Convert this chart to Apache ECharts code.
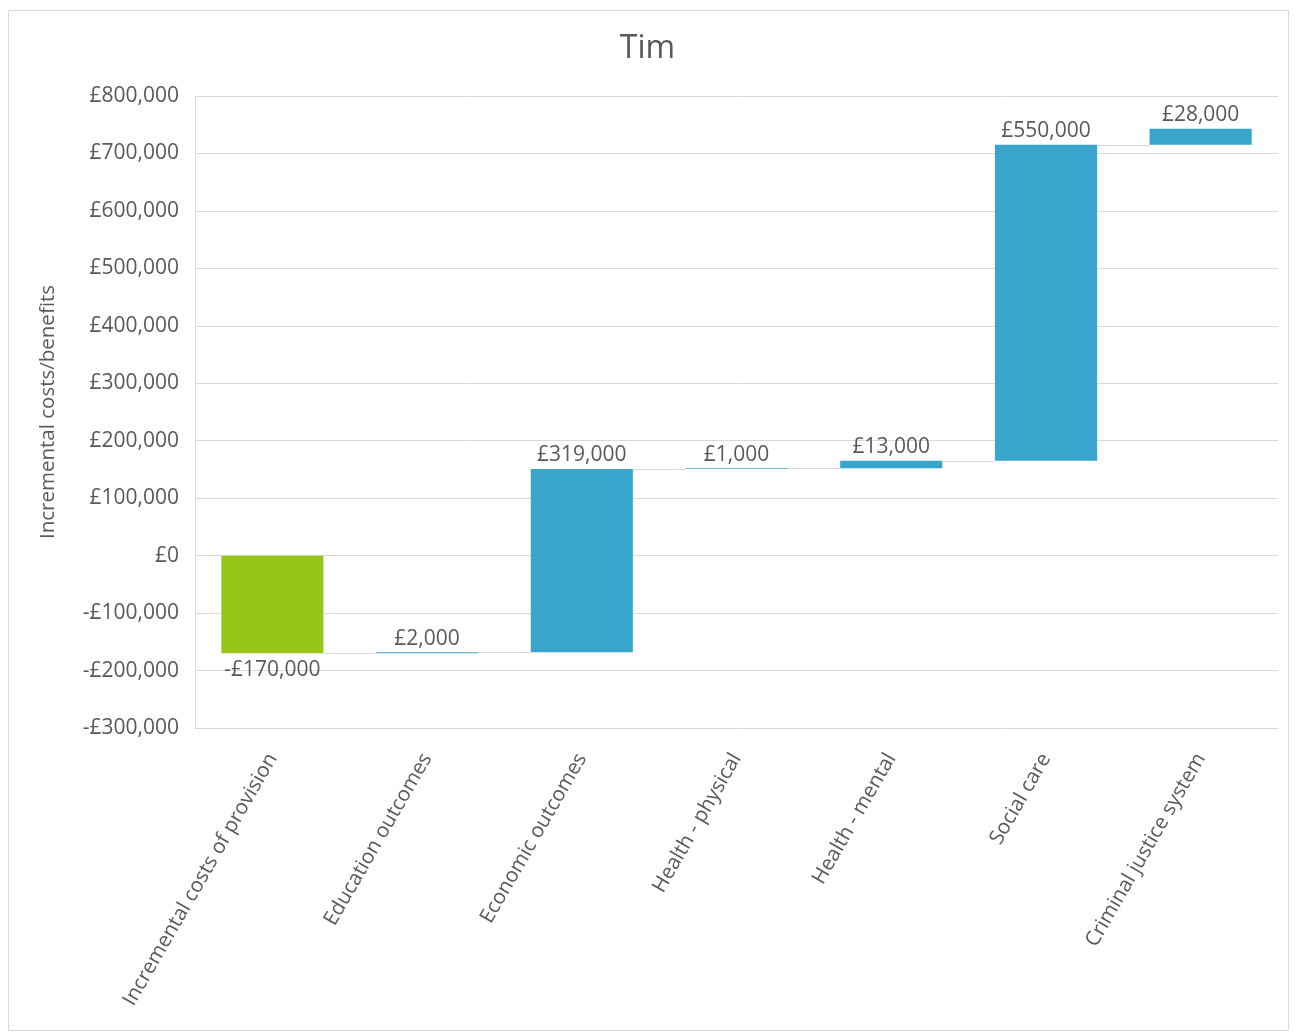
<!DOCTYPE html>
<html lang="en">
<head>
    <meta charset="UTF-8">
    <title>Tim</title>
    <script src="https://cdn.jsdelivr.net/npm/echarts@6/dist/echarts.min.js"></script>
    <style>
        html, body { margin: 0; padding: 0; background: #fff; }
        #main { width: 1295px; height: 1034px; }
    </style>
</head>
<body>
<div id="main"></div>
<script>
    // chart data
    var categories = ['Incremental costs of provision', 'Education outcomes', 'Economic outcomes',
        'Health - physical', 'Health - mental', 'Social care', 'Criminal justice system'];
    var changes = [-170000, 2000, 319000, 1000, 13000, 550000, 28000];
    var yTicks = { min: -300000, max: 800000, step: 100000 };

    // running totals: start of every bar and level after it
    var starts = [], levels = [];
    var total = 0;
    for (var i = 0; i < changes.length; i++) {
        starts.push(total);
        total += changes[i];
        levels.push(total);
    }

    function money(v) {
        var s = '£' + Math.abs(v).toLocaleString('en-GB');
        return v < 0 ? '-' + s : s;
    }

    var textColor = '#595959';
    var font = '"Open Sans", "Noto Sans", sans-serif';
    var barFrac = 0.66;

    var myChart = echarts.init(document.getElementById('main'));
    var option = {
        backgroundColor: '#fff',
        textStyle: { fontFamily: font },
        title: {
            text: 'Tim',
            left: 'center',
            top: 28,
            textStyle: { fontSize: 32, fontWeight: 'normal', color: textColor, fontFamily: font }
        },
        graphic: [{
            type: 'rect',
            shape: { x: 8.5, y: 10.5, width: 1280, height: 1020 },
            style: { fill: 'none', stroke: '#d9d9d9', lineWidth: 1 },
            silent: true
        }],
        grid: { left: 195, right: 17, top: 96, bottom: 306, containLabel: false },
        xAxis: {
            type: 'category',
            data: categories,
            axisLine: { show: true, onZero: false, lineStyle: { color: '#d9d9d9' } },
            axisTick: { show: false },
            axisLabel: {
                rotate: 60,
                interval: 0,
                margin: 27,
                fontSize: 20.5,
                color: textColor,
                fontFamily: font
            }
        },
        yAxis: {
            type: 'value',
            min: yTicks.min,
            max: yTicks.max,
            interval: yTicks.step,
            name: 'Incremental costs/benefits',
            nameLocation: 'middle',
            nameGap: 136,
            nameTextStyle: { fontSize: 20.5, color: textColor, fontFamily: font },
            axisLine: { show: true, lineStyle: { color: '#d9d9d9' } },
            axisTick: { show: false },
            splitLine: { lineStyle: { color: '#d9d9d9', width: 1 } },
            axisLabel: {
                fontSize: 21,
                color: textColor,
                margin: 16,
                fontFamily: font,
                formatter: money
            }
        },
        series: [
            {
                name: 'base',
                type: 'bar',
                stack: 'wf',
                stackStrategy: 'all',
                barWidth: (barFrac * 100) + '%',
                itemStyle: { color: 'transparent' },
                silent: true,
                data: starts
            },
            {
                name: 'change',
                type: 'bar',
                stack: 'wf',
                stackStrategy: 'all',
                barWidth: (barFrac * 100) + '%',
                data: changes.map(function (v, idx) {
                    return {
                        value: v,
                        itemStyle: { color: idx === 0 ? '#97C61A' : '#38A6CC' },
                        label: v < 0 ? { position: 'bottom', distance: 6 } : { position: 'top' }
                    };
                }),
                label: {
                    show: true,
                    fontSize: 21,
                    color: textColor,
                    distance: 3,
                    fontFamily: font,
                    formatter: function (p) { return money(changes[p.dataIndex]); }
                }
            },
            {
                name: 'connectors',
                type: 'custom',
                silent: true,
                z: 1,
                data: levels.slice(0, levels.length - 1).map(function (v, idx) { return [idx, v]; }),
                encode: { x: 0, y: 1 },
                renderItem: function (params, api) {
                    var p = api.coord([api.value(0), api.value(1)]);
                    var band = api.size([1, 0])[0];
                    var half = band * barFrac / 2;
                    var y = Math.round(p[1]) + 0.5;
                    return {
                        type: 'line',
                        shape: { x1: p[0] + half, y1: y, x2: p[0] + band - half, y2: y },
                        style: { stroke: '#d9d9d9', lineWidth: 1 }
                    };
                }
            }
        ]
    };
    myChart.setOption(option);
</script>
</body>
</html>
